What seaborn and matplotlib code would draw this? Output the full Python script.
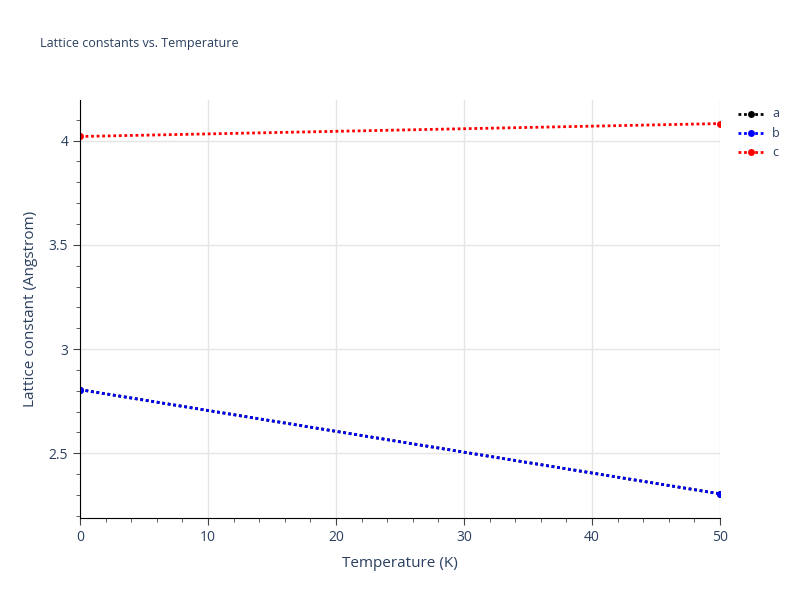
import matplotlib
matplotlib.use("Agg")
import matplotlib.pyplot as plt
import seaborn as sns
import pandas as pd
from matplotlib.ticker import MultipleLocator

temps = [0, 50]
a_vals = [2.805, 2.305]
b_vals = [2.805, 2.305]
c_vals = [4.02, 4.082]
series = ["a", "b", "c"]
colors = ["black", "blue", "red"]

sns.set_style("white")
plt.rcParams['font.family'] = ['Open Sans', 'DejaVu Sans']
fig = plt.figure(figsize=(8, 6), dpi=100)
ax = fig.add_axes([0.1, 0.137, 0.8, 0.697])

df = pd.DataFrame({"T": temps * 3, "v": a_vals + b_vals + c_vals,
                   "s": sum([[s] * len(temps) for s in series], [])})
sns.lineplot(data=df, x="T", y="v", hue="s", palette=colors, ax=ax,
             marker="o", markersize=5, markeredgewidth=0, linestyle=(0, (1, 1)),
             linewidth=2, legend=False)

ax.set_xlim(0, 50)
ax.set_ylim(2.19, 4.197)
ax.xaxis.set_major_locator(MultipleLocator(10))
ax.xaxis.set_minor_locator(MultipleLocator(2))
ax.yaxis.set_minor_locator(MultipleLocator(0.1))
ax.set_yticks([2.5, 3, 3.5, 4])
ax.set_yticklabels(["2.5", "3", "3.5", "4"])
ax.grid(True, which="major", color="#e5e5e5", linewidth=1)
for s in ["top", "right"]:
    ax.spines[s].set_visible(False)
for s in ["left", "bottom"]:
    ax.spines[s].set_color("black")
ax.tick_params(which="both", direction="out", color="#444", labelcolor="#2a3f5f", labelsize=10)
ax.tick_params(which="major", length=5, left=True, bottom=True)
ax.tick_params(which="minor", length=3, left=True, bottom=True)
ax.set_xlabel("Temperature (K)", color="#2a3f5f", fontsize=11, labelpad=8)
ax.set_ylabel("Lattice constant (Angstrom)", color="#2a3f5f", fontsize=11, labelpad=8)
fig.text(0.05, 0.922, "Lattice constants vs. Temperature", color="#2a3f5f", fontsize=9)

for i, (s, c) in enumerate(zip(series, colors)):
    y = 0.81 - i * 0.032
    fig.add_artist(plt.Line2D([0.922, 0.9385, 0.955], [y, y, y], color=c, linestyle=(0, (1, 1)),
                              linewidth=2, marker="o", markersize=5, markevery=[1],
                              markeredgewidth=0, transform=fig.transFigure))
    fig.text(0.965, y, s, color="#2a3f5f", fontsize=9, va="center")

fig.savefig("out.png")
